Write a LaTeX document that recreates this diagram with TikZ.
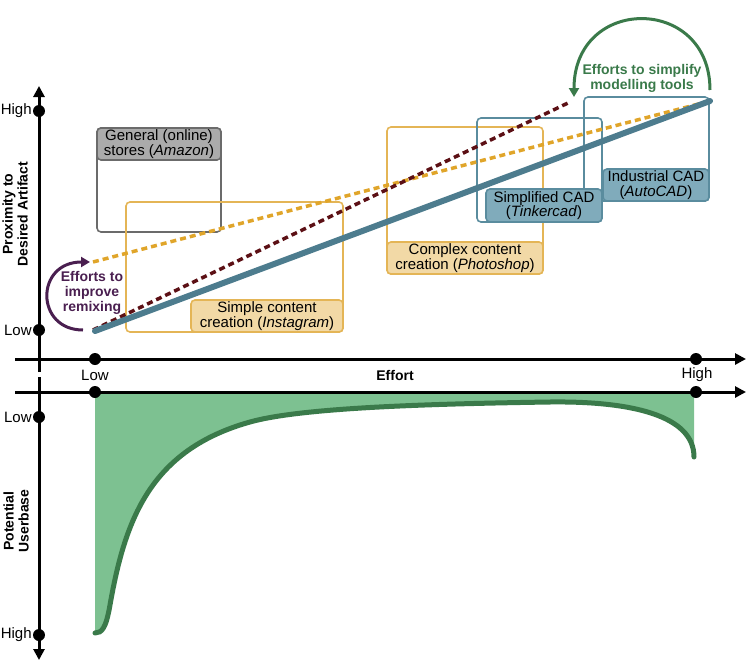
\documentclass[tikz,border=0pt]{standalone}
\usepackage{fontspec}
\setmainfont{Liberation Sans}
\usetikzlibrary{arrows.meta}
\definecolor{tealline}{HTML}{4D7C8E}
\definecolor{tealedge}{HTML}{5A8C9E}
\definecolor{tealfill}{HTML}{80ABBB}
\definecolor{goldedge}{HTML}{E4B556}
\definecolor{goldfill}{HTML}{F2D9A6}
\definecolor{grayedge}{HTML}{6B6B6B}
\definecolor{grayfill}{HTML}{ABABAB}
\definecolor{darkred}{HTML}{5C1015}
\definecolor{orangedash}{HTML}{E0A52A}
\definecolor{greenline}{HTML}{3A7A4A}
\definecolor{greenfill}{HTML}{7DC191}
\definecolor{purpleline}{HTML}{4A1F50}
\begin{document}
\begin{tikzpicture}[x=1pt,y=-1pt,
  font=\fontsize{15}{14.5}\selectfont,
  axisline/.style={line width=3pt,-{Triangle[length=11pt,width=11pt]}},
  tick/.style={circle,fill=black,inner sep=0pt,minimum size=12pt},
  frame/.style={draw,line width=1.6pt,rounded corners=4pt,inner sep=0pt,outer sep=0pt},
  goldbox/.style={frame,draw=goldedge},
  tealbox/.style={frame,draw=tealedge},
  graybox/.style={frame,draw=grayedge},
  goldlab/.style={frame,draw=goldedge,fill=goldfill,align=center,anchor=south east},
  teallab/.style={frame,draw=tealedge,fill=tealfill,align=center,anchor=south east},
  graylab/.style={frame,draw=grayedge,fill=grayfill,align=center,anchor=north},
  axlab/.style={inner sep=1pt},
  boldlab/.style={align=center,font=\fontsize{14}{15}\selectfont\bfseries},
  bigdash/.style={line width=3.5pt,dash pattern=on 6pt off 4pt},
]
\useasboundingbox (0,0) rectangle (748,664);

% ---- lower green area ----
\def\usercurve{(95,633) .. controls (102,633) and (106,628) .. (110,605)
  .. controls (125,520) and (150,450) .. (250,422)
  .. controls (300,408) and (420,404) .. (550,402)
  .. controls (630,401) and (694,415) .. (694,457)}
\fill[greenfill] (95,391) -- \usercurve -- (694,391) -- cycle;
\draw[greenline,line width=5pt,line cap=round] \usercurve;

% ---- boxes ----
\node[graybox,minimum width=124pt,minimum height=104pt] (amazon) at (159,180) {};
\node[graylab,minimum width=124pt,minimum height=32pt] (amazonlab) at (amazon.north) {General (online)\\stores (\textit{Amazon})};
\node[goldbox,minimum width=217pt,minimum height=130pt] (insta) at (234.5,267) {};
\node[goldlab,minimum width=152pt,minimum height=32pt] (instalab) at (insta.south east) {Simple content\\creation (\textit{Instagram})};
\node[goldbox,minimum width=156pt,minimum height=147pt] (photo) at (465,200.5) {};
\node[goldlab,minimum width=156pt,minimum height=32pt] (photolab) at (photo.south east) {Complex content\\creation (\textit{Photoshop})};
\node[tealbox,minimum width=125pt,minimum height=104pt] (indus) at (646.5,149) {};
\node[teallab,minimum width=106pt,minimum height=32pt] (induslab) at (indus.south east) {Industrial CAD\\(\textit{AutoCAD})};
\node[tealbox,minimum width=125pt,minimum height=104pt] (simple) at (539.5,170) {};
\node[teallab,minimum width=116pt,minimum height=33pt] (simplelab) at (simple.south east) {Simplified CAD\\(\textit{Tinkercad})};

% ---- trend lines ----
\coordinate (tealstart) at (95,331);
\coordinate (tealend) at (710,101);
\coordinate (redstart) at (93,330);
\coordinate (redend) at (568,103);
\coordinate (orstart) at (93,262);
\draw[orangedash,bigdash] (orstart) -- (tealend);
\draw[darkred,bigdash] (redstart) -- (redend);
\draw[tealline,line width=6pt,line cap=round] (tealstart) -- (tealend);

% ---- axes ----
\coordinate (vtopfrom) at (39,372);
\coordinate (vtopto) at (39,86);
\coordinate (vbotfrom) at (39,377);
\coordinate (vbotto) at (39,660);
\coordinate (h1from) at (15,359);
\coordinate (h1to) at (746,359);
\coordinate (h2from) at (15,392);
\coordinate (h2to) at (746,392);
\draw[axisline] (vtopfrom) -- (vtopto);
\draw[axisline] (vbotfrom) -- (vbotto);
\draw[axisline] (h1from) -- (h1to);
\draw[axisline] (h2from) -- (h2to);

\node[tick] (uhigh) at (39,111) {};
\node[tick] (ulow) at (39,330) {};
\node[tick] (llow) at (39,417) {};
\node[tick] (lhigh) at (39,635) {};
\node[tick] (h1low) at (95,359) {};
\node[tick] (h1high) at (696,359) {};
\node[tick] (h2low) at (95,392) {};
\node[tick] (h2high) at (696,392) {};

\node[axlab,anchor=east] (uhighlab) at (uhigh.west) {High};
\node[axlab,anchor=east] (ulowlab) at (ulow.west) {Low};
\node[axlab,anchor=east] (llowlab) at (llow.west) {Low};
\node[axlab,anchor=east] (lhighlab) at (lhigh.west) {High};
\node[axlab] (hlowlab) at (95,375) {Low};
\node[axlab] (hhighlab) at (697,375) {High};
\node[axlab,font=\fontsize{14}{14}\selectfont\bfseries] (effortlab) at (395,375) {Effort};

\node[rotate=90,boldlab] (proxlab) at (15,214) {Proximity to\\Desired Artifact};
\node[rotate=90,boldlab] (userlab) at (16,521) {Potential\\Userbase};

% ---- annotations ----
\coordinate (remixfrom) at (83,330);
\coordinate (remixto) at (90,262);
\draw[purpleline,line width=3pt,-{Triangle[length=9pt,width=10pt]}] (remixfrom) .. controls (35,330) and (35,262) .. (remixto);
\node[purpleline,boldlab] (remixlab) at (92,293) {Efforts to\\improve\\remixing};

\coordinate (simpfrom) at (710,90);
\coordinate (simpto) at (574,97);
\draw[greenline,line width=3pt,-{Triangle[length=9pt,width=10pt]}] (simpfrom) .. controls (710,-5) and (574,-5) .. (simpto);
\node[greenline,boldlab] (simplab) at (642,78) {Efforts to simplify\\modelling tools};
\end{tikzpicture}
\end{document}
